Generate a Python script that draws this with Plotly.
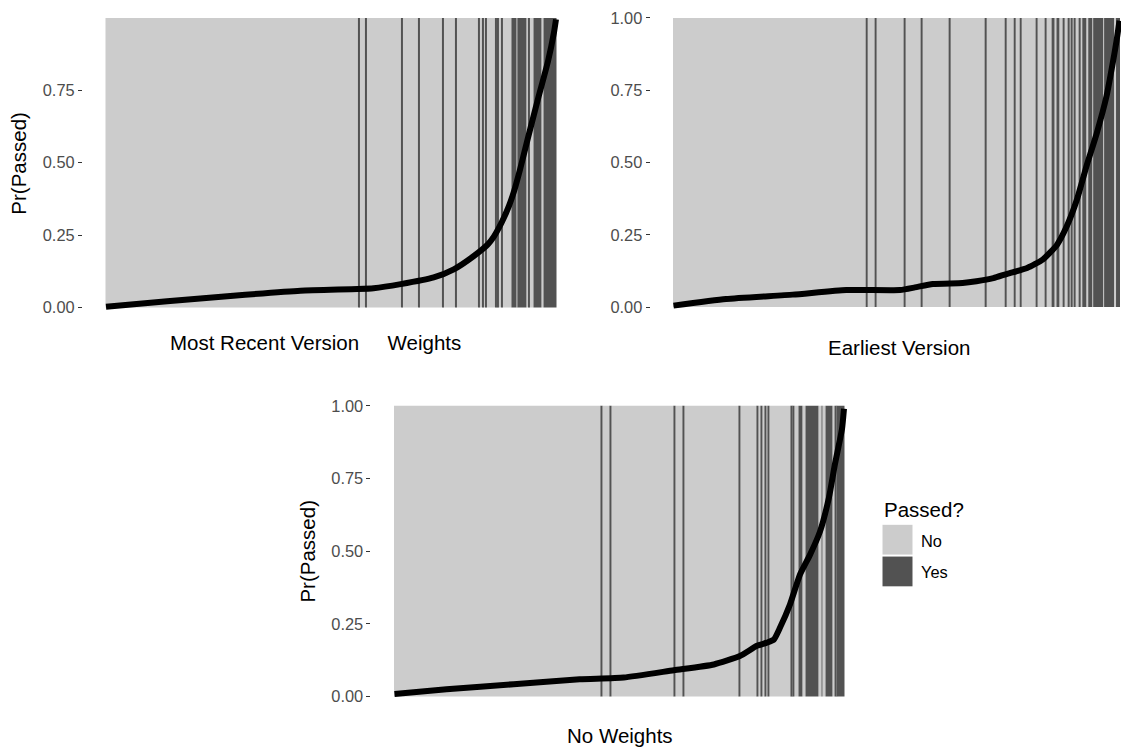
import plotly.graph_objects as go

W, H = 1121, 753

# ---------------- data ----------------
classes = ["No", "Yes"]
class_colors = ["#CCCCCC", "#525252"]
panel_names = ["Most Recent Version\u00a0\u00a0\u00a0\u00a0\u00a0Weights", "Earliest Version", "No Weights"]
n_obs = [450, 450, 450]

# positions (sorted by predicted probability) of observations that passed
yes_recent = [253, 260, 296, 313, 337, 350, 373, 377, 380, 390, 392, 396,
              406, 407, 408, 409, 410, 412, 413, 414, 415, 416, 417, 418, 419, 420,
              423, 428, 429, 430, 431, 432, 433, 434, 435,
              438, 439, 440, 441, 442, 443, 444, 445, 446, 447, 448, 449, 450]
yes_earliest = [195, 205, 234, 251, 279, 315, 335, 344, 350, 367, 376, 383, 384,
                387, 388, 389, 394, 399, 402, 405, 410, 413, 414, 415, 416,
                419, 420, 421, 422, 424, 425, 426, 427, 428, 429, 430, 431, 432, 433,
                435, 436, 437, 438, 439, 440, 441, 442, 443, 444, 447, 448, 449, 450]
yes_noweights = [208, 217, 281, 290, 346, 364, 368, 372, 375, 398, 400,
                 405, 406, 407, 408, 412, 413, 414, 415, 416, 417, 418, 419, 420,
                 421, 422, 423, 424, 428, 432, 433, 434, 435, 436, 437, 438, 441,
                 443, 444, 445, 446, 447, 448, 449, 450]

# predicted probability curve (position, Pr(Passed))
prob_idx_recent = [1, 62, 128, 195, 252, 268, 295, 328, 348, 368, 382, 388, 393, 398, 403,
                   408, 414, 422, 432, 442, 448, 450]
prob_recent = [0.003, 0.022, 0.041, 0.058, 0.064, 0.067, 0.081, 0.104, 0.132, 0.178, 0.218,
               0.245, 0.275, 0.31, 0.35, 0.40, 0.475, 0.585, 0.72, 0.85, 0.95, 0.995]
prob_idx_earliest = [1, 54, 121, 175, 229, 244, 262, 292, 306, 323, 337, 357, 373, 387, 397,
                     407, 417, 427, 437, 443, 447, 450]
prob_earliest = [0.005, 0.028, 0.043, 0.059, 0.059, 0.068, 0.080, 0.083, 0.089, 0.100, 0.115,
                 0.135, 0.165, 0.215, 0.28, 0.37, 0.49, 0.60, 0.73, 0.84, 0.92, 0.99]
prob_idx_noweights = [1, 53, 120, 186, 230, 280, 320, 346, 363, 373, 380, 386, 396, 406, 416,
                      426, 435, 441, 448, 450]
prob_noweights = [0.008, 0.025, 0.042, 0.059, 0.065, 0.09, 0.11, 0.139, 0.174, 0.185, 0.196,
                  0.236, 0.316, 0.419, 0.487, 0.567, 0.685, 0.80, 0.92, 0.99]

y_ticks = [0, 0.25, 0.5, 0.75, 1.0]
y_ticklabels = ["0.00", "0.25", "0.50", "0.75", "1.00"]

# ---------------- layout geometry (pixels) ----------------
# bars left, bars right, top (value 1), bottom (value 0)
panel_px = [(105.5, 556.5, 15, 307), (673, 1120, 15, 306.5), (394, 844.5, 406, 699)]
show_top_tick = [False, True, True]
show_ytitle = [True, False, True]

FONT = "Liberation Sans, Arial, sans-serif"
TICK_SIZE = 16.4
TITLE_SIZE = 20.5

fig = go.Figure()
layout = dict(width=W, height=H, autosize=False, margin=dict(l=0, r=0, t=0, b=0),
              plot_bgcolor="white", paper_bgcolor="white", barmode="overlay",
              showlegend=False, font=dict(family=FONT, color="black"))
annotations = []
shapes = []

panels = [(yes_recent, prob_idx_recent, prob_recent),
          (yes_earliest, prob_idx_earliest, prob_earliest),
          (yes_noweights, prob_idx_noweights, prob_noweights)]

for k, (yes, pidx, pval) in enumerate(panels):
    n = n_obs[k]
    xs = "x" if k == 0 else f"x{k+1}"
    ys = "y" if k == 0 else f"y{k+1}"
    xa = "xaxis" if k == 0 else f"xaxis{k+1}"
    ya = "yaxis" if k == 0 else f"yaxis{k+1}"

    # runs of identical outcome
    yes_set = set(yes)
    labels = [1 if i in yes_set else 0 for i in range(1, n + 1)]
    runs = {0: ([], []), 1: ([], [])}
    start = 1
    for i in range(2, n + 2):
        if i == n + 1 or labels[i - 1] != labels[start - 1]:
            c = labels[start - 1]
            runs[c][0].append((start + i - 1) / 2)
            runs[c][1].append(i - start)
            start = i
    for c in (0, 1):
        fig.add_trace(go.Bar(x=runs[c][0], y=[1] * len(runs[c][0]), base=0, width=runs[c][1],
                             marker=dict(color=class_colors[c], line=dict(width=0)),
                             name=classes[c], xaxis=xs, yaxis=ys, hoverinfo="skip"))
    fig.add_trace(go.Scatter(x=pidx, y=pval, mode="lines",
                             line=dict(color="black", width=6, shape="spline", smoothing=0.5),
                             xaxis=xs, yaxis=ys, hoverinfo="skip"))

    L, R, T, B = panel_px[k]
    ppx = (R - L) / n
    exp = 0.05 * n
    lo = 0.5 - exp
    hi = n + 0.5 + exp
    dl = L - exp * ppx
    dr = R + exp * ppx
    if dr > W:
        hi = n + 0.5 + (W - R) / ppx
        dr = W
    ppu = B - T
    ylo, yhi = -0.02, 1.02
    db = B - ylo * ppu
    dt = T - (yhi - 1) * ppu

    layout[xa] = dict(domain=[dl / W, dr / W], range=[lo, hi], showgrid=False, zeroline=False,
                      showticklabels=False, ticks="", showline=False, anchor=ys, fixedrange=True)
    tv = y_ticks if show_top_tick[k] else y_ticks[:-1]
    tt = y_ticklabels if show_top_tick[k] else y_ticklabels[:-1]
    layout[ya] = dict(domain=[1 - db / H, 1 - dt / H], range=[ylo, yhi], showgrid=False,
                      zeroline=False, showline=False, tickvals=tv, ticktext=tt,
                      ticks="outside", ticklen=4, tickwidth=1.1, tickcolor="#333333",
                      tickfont=dict(family=FONT, size=TICK_SIZE, color="#4D4D4D"),
                      anchor=xs, fixedrange=True)

    if show_ytitle[k]:
        annotations.append(dict(text="Pr(Passed)", xref="paper", yref="paper",
                                x=(dl - 64) / W, y=1 - (T + B) / 2 / H, textangle=-90,
                                showarrow=False, xanchor="center", yanchor="middle",
                                font=dict(family=FONT, size=TITLE_SIZE, color="black")))

# x-axis titles
title_pos = [(168, 342, "left"), (898.5, 347.5, "center"), (620, 738.5, "center")]
for k, (tx, ty, anc) in enumerate(title_pos):
    annotations.append(dict(text=panel_names[k], xref="paper", yref="paper", x=tx / W, y=1 - ty / H,
                            showarrow=False, xanchor=anc, yanchor="middle",
                            font=dict(family=FONT, size=TITLE_SIZE, color="black")))

# legend
annotations.append(dict(text="Passed?", xref="paper", yref="paper", x=882 / W, y=1 - 511 / H,
                        showarrow=False, xanchor="left", yanchor="middle",
                        font=dict(family=FONT, size=TITLE_SIZE, color="black")))
key_tops = [526, 558]
for c in (0, 1):
    t = key_tops[c]
    shapes.append(dict(type="rect", xref="paper", yref="paper", x0=882.5 / W, x1=912.5 / W,
                       y0=1 - (t + 30) / H, y1=1 - t / H, fillcolor=class_colors[c],
                       line=dict(width=0)))
    annotations.append(dict(text=classes[c], xref="paper", yref="paper", x=919 / W,
                            y=1 - (t + 16) / H, showarrow=False, xanchor="left", yanchor="middle",
                            font=dict(family=FONT, size=TICK_SIZE, color="black")))

layout["annotations"] = annotations
layout["shapes"] = shapes
fig.update_layout(**layout)
fig.write_html("out.html")
